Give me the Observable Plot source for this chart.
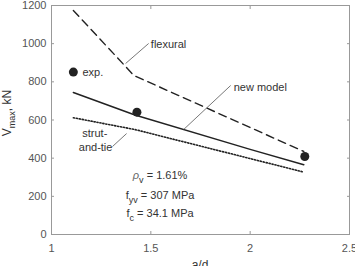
<!DOCTYPE html>
<html><head><meta charset="utf-8">
<script src="https://cdn.jsdelivr.net/npm/d3@7"></script>
<script src="https://cdn.jsdelivr.net/npm/@observablehq/plot@0.6"></script>
<style>body{margin:0;background:#fff}svg{display:block}</style>
</head><body><div id="chart"></div>
<script>
const xTicks = [1, 1.5, 2, 2.5];
const yTicks = [0, 200, 400, 600, 800, 1000, 1200];
const expX = [1.11, 1.43, 2.275];
const expV = [851, 641, 409];
const flexX = [1.11, 1.415, 2.27];
const flexV = [1174, 833, 435];
const modelX = [1.11, 1.42, 2.0, 2.27];
const modelV = [744, 626, 446, 366];
const stmX = [1.11, 1.42, 2.27];
const stmV = [612, 550, 327];
const startLabels = [
  {x: 1.156, y: 849, text: "exp."},
  {x: 1.50, y: 996, text: "flexural"},
  {x: 1.917, y: 770, text: "new model"}
];
const midLabels = [
  {x: 1.218, y: 529, text: "strut-"},
  {x: 1.222, y: 456, text: "and-tie"}
];
const leaders = [
  {x1: 1.489, y1: 1001, x2: 1.373, y2: 896},
  {x1: 1.902, y1: 781, x2: 1.665, y2: 550},
  {x1: 1.307, y1: 461, x2: 1.378, y2: 529}
];

const pts = (xs, vs) => xs.map((x, i) => ({x, v: vs[i]}));
const fg = "#222";
const txt = "#333";
const font = "Liberation Sans, Arial, sans-serif";
const plot = Plot.plot({
  width: 355, height: 266,
  marginLeft: 51, marginRight: 6, marginTop: 5, marginBottom: 32,
  style: {fontFamily: font, fontSize: "11px", background: "#fff"},
  x: {domain: [1, 2.5]},
  y: {domain: [0, 1200]},
  marks: [
    Plot.frame({stroke: "#999"}),
    Plot.axisX({ticks: xTicks, tickSize: -3, tickFormat: () => "", label: null, stroke: "#999"}),
    Plot.axisX({ticks: xTicks, anchor: "top", tickSize: -3, tickFormat: () => "", label: null, stroke: "#999"}),
    Plot.axisX({ticks: xTicks, tickSize: 0, tickPadding: 10, tickFormat: d => String(d), label: null, fill: "#555"}),
    Plot.axisY({ticks: yTicks, tickSize: -3, tickFormat: () => "", label: null, stroke: "#999"}),
    Plot.axisY({ticks: yTicks, anchor: "right", tickSize: -3, tickFormat: () => "", label: null, stroke: "#999"}),
    Plot.axisY({ticks: yTicks, tickSize: 0, tickPadding: 5, tickFormat: d => String(d), label: null, fill: "#555"}),
    Plot.line(pts(flexX, flexV), {x: "x", y: "v", stroke: fg, strokeWidth: 1.4, strokeDasharray: "8,5"}),
    Plot.line(pts(modelX, modelV), {x: "x", y: "v", stroke: fg, strokeWidth: 1.5}),
    Plot.line(pts(stmX, stmV), {x: "x", y: "v", stroke: fg, strokeWidth: 1.6, strokeDasharray: "1.2,1.8"}),
    Plot.link(leaders, {x1: "x1", y1: "y1", x2: "x2", y2: "y2", stroke: "#555", strokeWidth: 0.8}),
    Plot.dot(pts(expX, expV), {x: "x", y: "v", r: 4.5, fill: fg, stroke: "none"}),
    Plot.text(startLabels, {x: "x", y: "y", text: "text", textAnchor: "start", fill: txt, fontSize: 11}),
    Plot.text(midLabels, {x: "x", y: "y", text: "text", textAnchor: "middle", fill: txt, fontSize: 11})
  ]
});
document.getElementById("chart").appendChild(plot);

const svg = d3.select(plot);
const sx = plot.scale("x"), sy = plot.scale("y");
const params = [
  {y: 309, main: "\u03C1", sub: "v", rest: " = 1.61%", italic: true},
  {y: 204, main: "f", sub: "yv", rest: " = 307 MPa"},
  {y: 110, main: "f", sub: "c", rest: " = 34.1 MPa"}
];
params.forEach(p => {
  const t = svg.append("text")
    .attr("x", sx.apply(1.549)).attr("y", sy.apply(p.y))
    .attr("dy", "0.32em").attr("fill", txt)
    .attr("font-size", 11).attr("font-family", font);
  t.append("tspan").text(p.main).attr("font-style", p.italic ? "italic" : null).attr("fill", p.italic ? "#666" : txt);
  t.append("tspan").text(p.sub).attr("dy", 4).attr("font-size", 9);
  t.append("tspan").text(p.rest).attr("dy", -4);
});
const yl = svg.append("text")
  .attr("transform", "translate(11,113) rotate(-90)")
  .attr("text-anchor", "middle").attr("fill", txt)
  .attr("font-size", 12).attr("font-family", font);
yl.append("tspan").text("V");
yl.append("tspan").text("max").attr("dy", 4).attr("font-size", 9);
yl.append("tspan").text(", kN").attr("dy", -4);
svg.append("text").attr("x", sx.apply(1.75)).attr("y", 269)
  .attr("text-anchor", "middle").attr("fill", txt)
  .attr("font-size", 12).attr("font-family", font).text("a/d");
</script>
</body></html>
